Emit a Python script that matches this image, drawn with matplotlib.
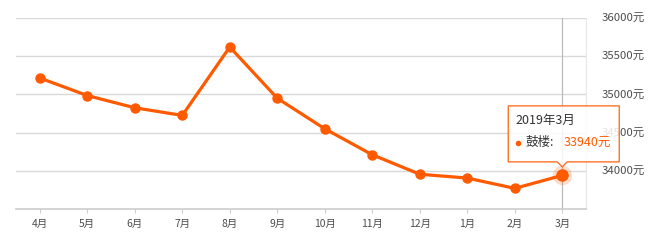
import matplotlib
matplotlib.use("Agg")
import matplotlib.pyplot as plt
import matplotlib.transforms as mtransforms
from matplotlib.patches import Polygon

plt.rcParams['font.family'] = ['Noto Sans CJK SC', 'DejaVu Sans']

months = ["4月", "5月", "6月", "7月", "8月", "9月", "10月", "11月", "12月", "1月", "2月", "3月"]
prices = [35215, 34985, 34825, 34725, 35620, 34950, 34550, 34210, 33955, 33905, 33770, 33940]
yticks = [34000, 34500, 35000, 35500, 36000]
tip_title = "2019年3月"
tip_name = "鼓楼:"

orange = '#ff5a00'
grid_c = '#d9d9d9'
txt_c = '#4d4d4d'

fig = plt.figure(figsize=(6.6, 2.4), dpi=100)
ax = fig.add_axes([16/660, 31/240, 570/660, 191/240])

x = list(range(len(months)))
ax.set_xlim(-0.5, len(months) - 0.5)
ax.set_ylim(33500, 36000)

for v in yticks:
    ax.axhline(v, color=grid_c, lw=1, zorder=0)

ax.axvline(x[-1], color='#bbbbbb', lw=0.9, zorder=1)

ax.plot(x, prices, color=orange, lw=2.3, marker='o', ms=6.5, zorder=3)
ax.plot(x[-1], prices[-1], 'o', color=orange, ms=14, alpha=0.2, mec='none', zorder=4)
ax.plot(x[-1], prices[-1], 'o', color=orange, ms=9, mec='none', zorder=5)

for s in ['left', 'top']:
    ax.spines[s].set_visible(False)
ax.spines['right'].set_color('#e8e8e8')
ax.spines['bottom'].set_color('#cccccc')
ax.spines['bottom'].set_linewidth(1.2)

ax.set_xticks(x)
ax.set_xticklabels(months, fontsize=7.5, color=txt_c)
ax.tick_params(axis='x', length=3, color='#cccccc', pad=4)

ax.yaxis.tick_right()
ax.set_yticks(yticks)
ax.set_yticklabels([f"{v}元" for v in yticks], fontsize=8.2, color=txt_c)
ax.tick_params(axis='y', length=0, pad=11)

# tooltip anchored at the last point (offsets in pixels)
trans = mtransforms.Affine2D().scale(1.0) + mtransforms.ScaledTranslation(x[-1], prices[-1], ax.transData)
box = [(-54, 13.5), (-5, 13.5), (0, 8.5), (5, 13.5), (57, 13.5), (57, 69.5), (-54, 69.5)]
tip = Polygon(box, closed=True, transform=trans, facecolor='white', alpha=0.85,
              edgecolor=orange, lw=1, zorder=6, clip_on=False)
ax.add_patch(tip)
ax.text(-47, 54.5, tip_title, transform=trans, fontsize=9, color='#333333',
        va='center', ha='left', zorder=7)
ax.plot([-44], [32.5], 'o', transform=trans, color=orange, ms=4, mec='none', zorder=7, clip_on=False)
ax.text(-37, 32.5, tip_name, transform=trans, fontsize=9, color='#333333',
        va='center', ha='left', zorder=7)
ax.text(1, 32.5, f"{prices[-1]}元", transform=trans, fontsize=9, color=orange,
        va='center', ha='left', zorder=7)

fig.savefig('out.png', dpi=100)
